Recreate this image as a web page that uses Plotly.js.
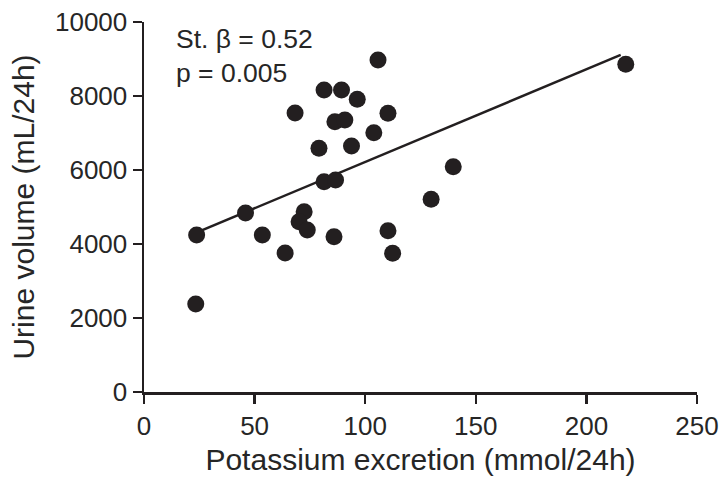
<!DOCTYPE html>
<html>
<head>
<meta charset="utf-8">
<script src="https://cdn.plot.ly/plotly-3.0.1.min.js"></script>
<style>html,body{margin:0;padding:0;background:#fff;}#chart{width:721px;height:480px;}</style>
</head>
<body>
<div id="chart"></div>
<script>
// Potassium excretion (mmol/24h)
const potassium = [23.4, 23.8, 45.9, 53.5, 63.8, 68.3, 72.4, 70.1, 73.8, 85.9, 79.1, 81.4, 86.6, 81.4, 89.3, 96.4, 86.3, 90.8, 105.8, 110.3, 93.8, 103.9, 139.8, 129.8, 110.3, 112.4, 217.8];
// Urine volume (mL/24h)
const urineVolume = [2380, 4243, 4838, 4243, 3757, 7540, 4873, 4603, 4378, 4197, 6586, 5684, 5730, 8162, 8162, 7910, 7306, 7351, 8973, 7532, 6649, 7008, 6090, 5207, 4360, 3748, 8856];
// Regression line end points
const fitX = [23.4, 215.5];
const fitY = [4300, 9110];
const xTicks = [0, 50, 100, 150, 200, 250];
const yTicks = [0, 2000, 4000, 6000, 8000, 10000];
const statLines = ["St. \u03b2 = 0.52", "p = 0.005"];

const ink = '#231f20';
const txt = '#262626';
const font = 'Liberation Sans, Arial, Helvetica, sans-serif';

const traces = [
  {x: fitX, y: fitY, mode: 'lines', line: {color: ink, width: 2.5}, hoverinfo: 'skip', cliponaxis: false},
  {x: potassium, y: urineVolume, mode: 'markers', marker: {color: ink, size: 17}, cliponaxis: false}
];

const layout = {
  width: 721, height: 480,
  margin: {l: 144, r: 24, t: 22, b: 88},
  paper_bgcolor: '#fff', plot_bgcolor: '#fff',
  showlegend: false,
  font: {family: font, color: txt, size: 26},
  xaxis: {
    range: [0, 250], tickvals: xTicks, ticktext: xTicks.map(String),
    showgrid: false, zeroline: false, showline: true, linecolor: ink, linewidth: 2.5,
    ticks: 'outside', ticklen: 9, tickwidth: 2.5, tickcolor: ink,
    tickfont: {size: 26, color: txt},
    title: {text: 'Potassium excretion (mmol/24h)', font: {size: 30, color: txt}, standoff: 10}
  },
  yaxis: {
    range: [0, 10000], tickvals: yTicks, ticktext: yTicks.map(String),
    showgrid: false, zeroline: false, showline: true, linecolor: ink, linewidth: 2.5,
    ticks: 'outside', ticklen: 9, tickwidth: 2.5, tickcolor: ink,
    tickfont: {size: 26, color: txt},
    title: {text: 'Urine volume (mL/24h)', font: {size: 30, color: txt}, standoff: 12}
  },
  annotations: [
    {xref: 'paper', yref: 'paper', x: 0.055, y: 1.0, xanchor: 'left', yanchor: 'top', showarrow: false, align: 'left',
     text: statLines.join('<br>'), font: {size: 26.5, color: txt}}
  ]
};

Plotly.newPlot('chart', traces, layout, {displayModeBar: false, staticPlot: true});
</script>
</body>
</html>
